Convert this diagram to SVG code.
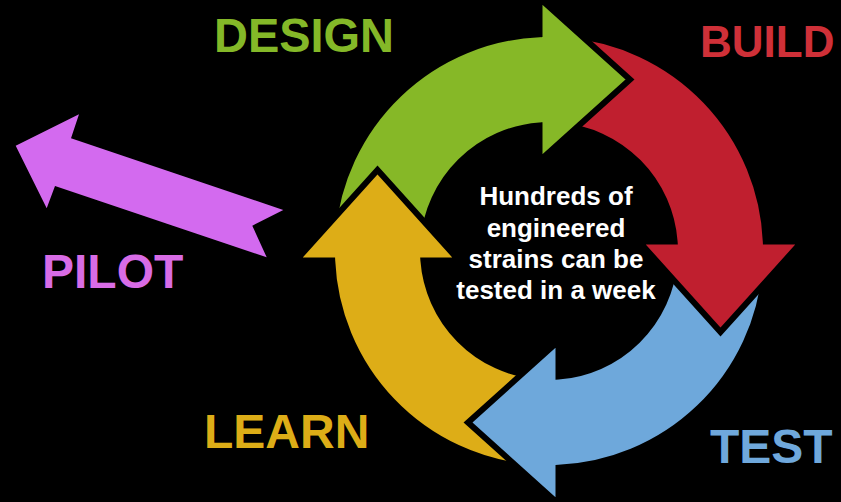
<svg xmlns="http://www.w3.org/2000/svg" xmlns:xlink="http://www.w3.org/1999/xlink" width="841" height="502" viewBox="0 0 841 502">
  <style>
    .arc { stroke: #000; stroke-width: 6; stroke-linejoin: miter; }
    .lbl { font-family: "Liberation Sans", Arial, sans-serif; font-weight: bold; font-size: 48px; }
    .center { font-family: "Liberation Sans", Arial, sans-serif; font-weight: bold; font-size: 26px; fill: #fff; text-anchor: middle; }
  </style>
  <defs>
    <path id="cycArrow" d="M -216.2 -18.9 A 217 217 0 0 1 -9.5 -216.8 L -9.5 -253 L 81 -171.5 L -9.5 -90 L -9.5 -125.6 A 126 126 0 0 0 -125.5 -11 Z"/>
    <clipPath id="greenHeadClip" clipPathUnits="userSpaceOnUse">
      <rect x="-8" y="-262" width="105" height="185"/>
    </clipPath>
  </defs>
  <rect x="0" y="0" width="841" height="502" fill="#000"/>

  <g id="cycle" transform="translate(549 251)">
    <g id="design-arrow"><use xlink:href="#cycArrow" class="arc" fill="#86B827"/></g>
    <g id="learn-arrow"><use xlink:href="#cycArrow" class="arc" fill="#DDAD17" transform="rotate(270)"/></g>
    <g id="test-arrow"><use xlink:href="#cycArrow" class="arc" fill="#6EA8DB" transform="rotate(180)"/></g>
    <g id="build-arrow"><use xlink:href="#cycArrow" class="arc" fill="#C01F2F" transform="rotate(90)"/></g>
    <use xlink:href="#cycArrow" class="arc" fill="#86B827" clip-path="url(#greenHeadClip)"/>
  </g>

  <g id="pilot-arrow">
    <polygon points="15.7,145.7 79,114.3 71,138.3 283.3,210 252.3,225.7 266.7,257.3 55,186 46.7,208.3" fill="#D36AEF"/>
  </g>

  <g id="design"><text class="lbl" x="214" y="51.7" fill="#84B828" textLength="180" lengthAdjust="spacingAndGlyphs">DESIGN</text></g>
  <g id="build"><text class="lbl" x="700" y="56.7" fill="#CF3038" style="font-size:44px">BUILD</text></g>
  <g id="test"><text class="lbl" x="710" y="463.3" fill="#6FA8DC">TEST</text></g>
  <g id="learn"><text class="lbl" x="204" y="448.3" fill="#DDAD17">LEARN</text></g>
  <g id="pilot"><text class="lbl" x="42" y="288" fill="#D86CE6">PILOT</text></g>

  <g id="center-text">
    <text class="center" x="556" y="205">Hundreds of</text>
    <text class="center" x="556" y="236.5">engineered</text>
    <text class="center" x="556" y="268">strains can be</text>
    <text class="center" x="556" y="298.5">tested in a week</text>
  </g>
</svg>
